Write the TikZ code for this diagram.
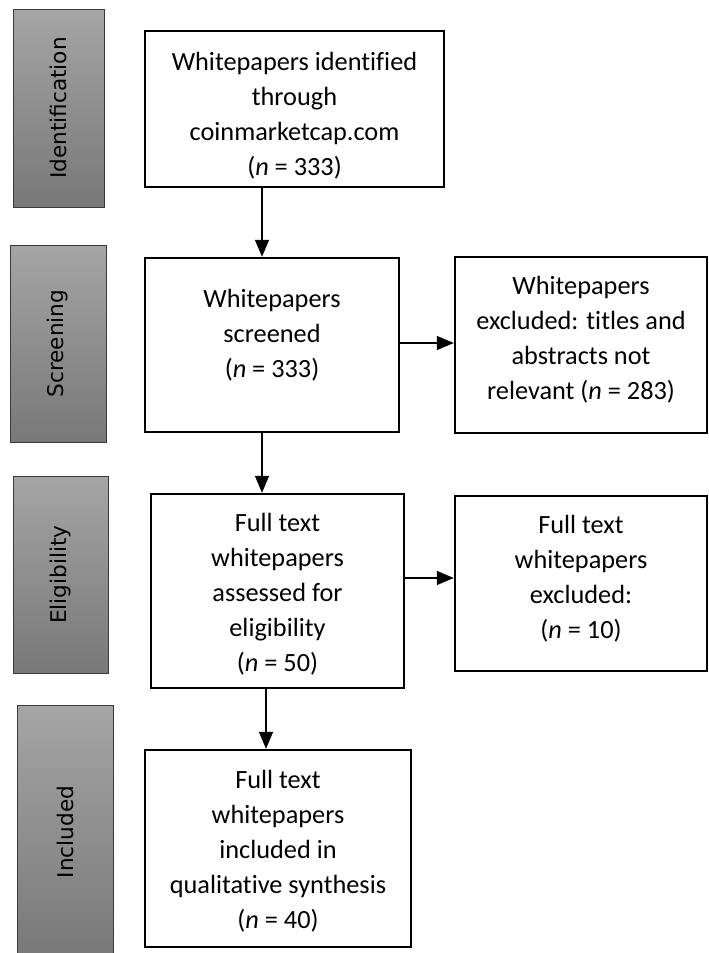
\documentclass[tikz,border=0pt]{standalone}
\usepackage{fontspec}
\setmainfont[Ligatures=NoCommon]{Carlito}
\newfontfamily\sidefont{DejaVu Sans}
\usetikzlibrary{arrows.meta}
\definecolor{sidetop}{HTML}{A5A5A5}
\definecolor{sidebot}{HTML}{787878}
\definecolor{sideedge}{HTML}{3A3A3A}
\begin{document}
\begin{tikzpicture}[x=1pt,y=-1pt,
  box/.style={draw=black, line width=2.4pt, inner sep=0pt, minimum width=#1},
  side/.style={draw=sideedge, line width=1pt, top color=sidetop, bottom color=sidebot, inner sep=0pt, minimum width=#1},
  txt/.style={align=center, inner sep=0pt, font=\fontsize{26.3}{35}\selectfont},
  sidetxt/.style={rotate=90, inner sep=0pt, font=\sidefont\fontsize{21.6}{26}\selectfont},
  arr/.style={-{Triangle[length=17pt,width=14pt]}, line width=1.3pt}]
\useasboundingbox (0,0) rectangle (709,953);
% side labels
\node[side=91pt, minimum height=198pt] (sid) at (58.5,108) {};
\node[side=96pt, minimum height=197pt] (ssc) at (58,343.5) {};
\node[side=95pt, minimum height=197pt] (sel) at (60.5,574.5) {};
\node[side=96pt, minimum height=254pt] (sin) at (65,832) {};
\node[sidetxt] (tid) at (sid.center) {Identification};
\node[sidetxt] (tsc) at (ssc.center) {Screening};
\node[sidetxt] (tel) at (sel.center) {Eligibility};
\node[sidetxt] (tin) at (sin.center) {Included};
% main boxes
\node[box=299pt, minimum height=156pt] (b1) at (294.5,109) {};
\node[box=254pt, minimum height=174pt] (b2) at (272,345) {};
\node[box=252pt, minimum height=176pt] (b2r) at (581,345) {};
\node[box=253pt, minimum height=194pt] (b3) at (277.5,591) {};
\node[box=252pt, minimum height=175pt] (b3r) at (581,583.5) {};
\node[box=266pt, minimum height=197pt] (b4) at (278,848.5) {};
% texts
\node[txt] (t1) at ([yshift=-7pt]b1.center) {Whitepapers identified\\through\\coinmarketcap.com\\(\textit{n} = 333)};
\node[txt] (t2) at ([yshift=10pt]b2.center) {Whitepapers\\screened\\(\textit{n} = 333)};
\node[txt] (t2r) at ([yshift=5pt]b2r.center) {Whitepapers\\excluded: titles and\\abstracts not\\relevant (\textit{n} = 283)};
\node[txt] (t3) at ([yshift=-3pt]b3.center) {Full text\\whitepapers\\assessed for\\eligibility\\(\textit{n} = 50)};
\node[txt] (t3r) at ([yshift=5pt]b3r.center) {Full text\\whitepapers\\excluded:\\(\textit{n} = 10)};
\node[txt] (t4) at ([yshift=-3pt]b4.center) {Full text\\whitepapers\\included in\\qualitative synthesis\\(\textit{n} = 40)};
% connector guides
\coordinate (v1) at (262,0);
\coordinate (v2) at (262,0);
\coordinate (v3) at (266,0);
\coordinate (h1) at (0,343);
\coordinate (h2) at (0,578);
% connectors
\draw[arr] (v1 |- b1.south) -- (v1 |- b2.north);
\draw[arr] (v2 |- b2.south) -- (v2 |- b3.north);
\draw[arr] (v3 |- b3.south) -- (v3 |- b4.north);
\draw[arr] (b2.east |- h1) -- (b2r.west |- h1);
\draw[arr] (b3.east |- h2) -- (b3r.west |- h2);
\end{tikzpicture}
\end{document}
